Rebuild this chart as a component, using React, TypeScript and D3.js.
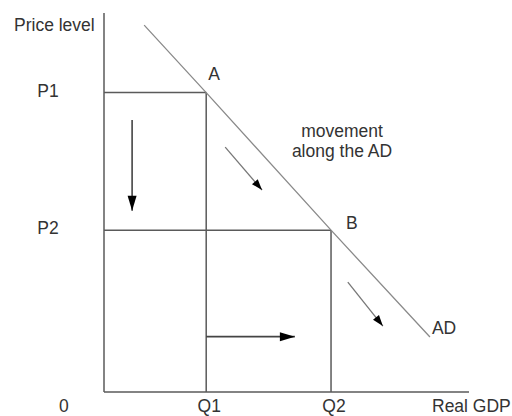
import React from "react";
import * as d3 from "d3";

// Data (arbitrary units: quantity 0..100, price 0..100)
const priceLevels = [
  { label: "P1", value: 79 },
  { label: "P2", value: 42.7 },
];
const quantities = [
  { label: "Q1", value: 28 },
  { label: "Q2", value: 62.2 },
];
const adCurve: [number, number][] = [
  [11, 96.8],
  [28, 79],
  [62.2, 42.7],
  [89.3, 14.5],
];
const points = [
  { label: "A", q: 28, p: 79 },
  { label: "B", q: 62.2, p: 42.7 },
];
const arrows = [
  { from: [7.7, 71.8], to: [7.7, 47.8], head: "big" },
  { from: [28, 14.6], to: [52.3, 14.6], head: "big" },
  { from: [33.2, 64.6], to: [43.3, 53.3], head: "small" },
  { from: [66.8, 29.0], to: [76.4, 17.4], head: "small" },
];
const axisLabels = { y: "Price level", x: "Real GDP", origin: "0", curve: "AD" };
const noteLines = ["movement", "along the AD"];

const W = 512;
const H = 416;

export default function App() {
  const x = d3.scaleLinear().domain([0, 100]).range([104, 469]);
  const y = d3.scaleLinear().domain([0, 100]).range([392, 13]);
  const line = d3
    .line<[number, number]>()
    .x((d) => x(d[0]))
    .y((d) => y(d[1]));

  const font = "'Liberation Sans', Arial, sans-serif";
  const fs = 17.5;
  const axisColor = "#5a5a5a";

  const arrowHead = (x1: number, y1: number, x2: number, y2: number, big: boolean) => {
    const len = big ? 15 : 11;
    const half = big ? 4.5 : 3.8;
    const dx = x2 - x1;
    const dy = y2 - y1;
    const n = Math.hypot(dx, dy);
    const ux = dx / n;
    const uy = dy / n;
    const bx = x2 - ux * len;
    const by = y2 - uy * len;
    const px = -uy;
    const py = ux;
    return `${x2},${y2} ${bx + px * half},${by + py * half} ${bx - px * half},${by - py * half}`;
  };

  return (
    <svg width={W} height={H} style={{ position: "absolute", left: 0, top: 0, background: "#fff" }}>
      <rect width={W} height={H} fill="#fff" />
      {/* axes */}
      <line x1={x(0)} y1={y(100)} x2={x(0)} y2={y(0)} stroke={axisColor} strokeWidth={1.5} />
      <line x1={x(0)} y1={y(0)} x2={x(100)} y2={y(0)} stroke={axisColor} strokeWidth={1.5} />
      {/* guide lines */}
      {points.map((pt) => (
        <g key={pt.label}>
          <line x1={x(0)} y1={y(pt.p)} x2={x(pt.q)} y2={y(pt.p)} stroke={axisColor} strokeWidth={1.5} />
          <line x1={x(pt.q)} y1={y(pt.p)} x2={x(pt.q)} y2={y(0)} stroke={axisColor} strokeWidth={1.5} />
        </g>
      ))}
      {/* AD curve */}
      <path d={line(adCurve) || ""} fill="none" stroke="#8a8a8a" strokeWidth={1.3} />
      {/* arrows */}
      {arrows.map((a, i) => {
        const x1 = x(a.from[0]);
        const y1 = y(a.from[1]);
        const x2 = x(a.to[0]);
        const y2 = y(a.to[1]);
        const big = a.head === "big";
        return (
          <g key={i}>
            <line x1={x1} y1={y1} x2={x2} y2={y2} stroke={big ? "#444" : "#777"} strokeWidth={big ? 1.6 : 1.3} />
            <polygon points={arrowHead(x1, y1, x2, y2, big)} fill="#000" />
          </g>
        );
      })}
      {/* text */}
      <g fontFamily={font} fontSize={fs} fill="#333">
        <text x={14} y={31}>{axisLabels.y}</text>
        {priceLevels.map((p) => (
          <text key={p.label} x={48} y={y(p.value) + 4} textAnchor="middle">{p.label}</text>
        ))}
        <text x={59} y={412}>{axisLabels.origin}</text>
        {quantities.map((q) => (
          <text key={q.label} x={x(q.value) + 3} y={412} textAnchor="middle">{q.label}</text>
        ))}
        <text x={432} y={412}>{axisLabels.x}</text>
        {points.map((pt) => (
          <text key={pt.label} x={x(pt.q) + (pt.label === "A" ? 2 : 15)} y={y(pt.p) - (pt.label === "A" ? 13 : 1)}>{pt.label}</text>
        ))}
        <text x={x(adCurve[adCurve.length - 1][0]) + 2} y={y(adCurve[adCurve.length - 1][1]) - 3}>{axisLabels.curve}</text>
        {noteLines.map((t, i) => (
          <text key={t} x={342} y={137 + i * 20} textAnchor="middle">{t}</text>
        ))}
      </g>
    </svg>
  );
}
